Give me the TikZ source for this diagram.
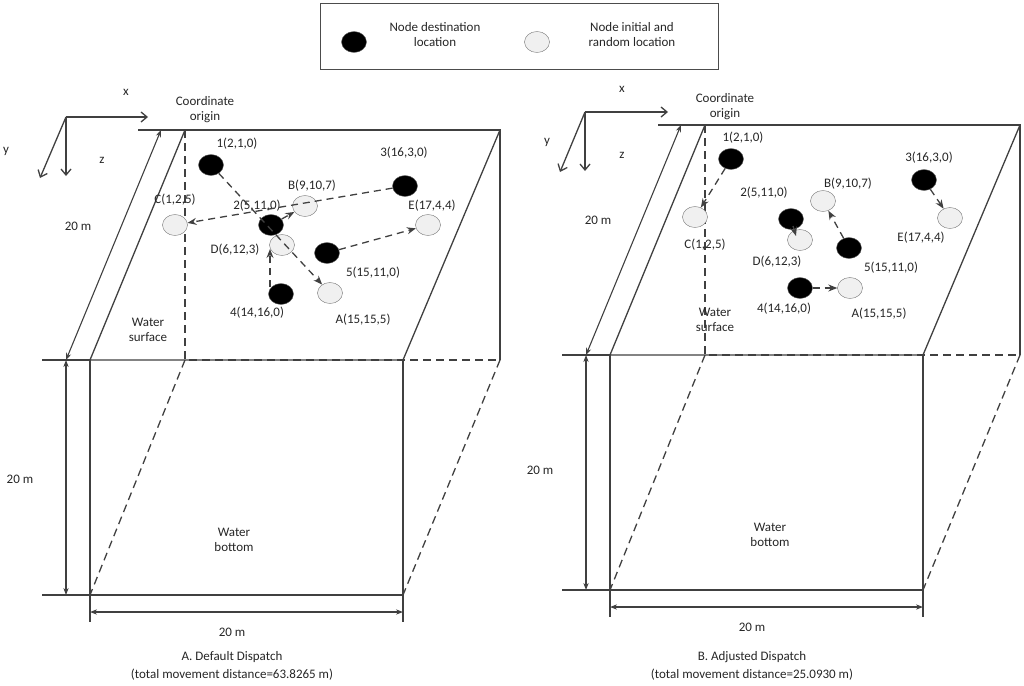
\documentclass[tikz,border=0pt]{standalone}
\usepackage{fontspec}
\setmainfont{Carlito}
\usetikzlibrary{shapes.geometric,arrows.meta}
\begin{document}
\begin{tikzpicture}[x=1pt,y=-1pt,
  ln/.style={line width=1.3pt,draw=black!75},
  dsh/.style={ln,dash pattern=on 8pt off 5pt},
  dim/.style={line width=1.1pt,draw=black!75,{Stealth[length=7pt]}-{Stealth[length=7pt]}},
  ext/.style={line width=1.1pt,draw=black!75},
  bn/.style={ellipse,minimum width=25pt,minimum height=21pt,inner sep=0,fill=black,draw=black!60},
  wn/.style={ellipse,minimum width=25pt,minimum height=21pt,inner sep=0,fill=black!6,draw=black!55},
  mv/.style={line width=1.3pt,draw=black!75,dash pattern=on 7pt off 5pt,-{Stealth[length=9pt,width=7pt]}},
  ax/.style={line width=1.3pt,draw=black!75,-{Straight Barb[length=6pt,width=10pt]}},
  lb/.style={font=\fontsize{13}{15}\selectfont,inner sep=0,align=center},
  every node/.append style={text=black!85}]
\useasboundingbox (0,0) rectangle (1024,685);
% legend
\node[draw=black!70,line width=0.8pt,minimum width=398pt,minimum height=66pt,anchor=north west] (leg) at (320,3) {};
\node[bn] (lb1) at (354,42) {};
\node[lb] (lt1) at (435,35) {Node destination\\location};
\node[wn] (lw1) at (537,42) {};
\node[lb] (lt2) at (632,35) {Node initial and\\random location};
% boxes
\foreach \dx/\dy in {0/0,520/-5}{
\begin{scope}[xshift=\dx pt,yshift=-\dy pt]
\draw[ln] (185,130) -- (500,130) -- (500,360);
\draw[ln] (185,130) -- (90,360) -- (403,360) -- (500,130);
\draw[ln] (90,360) -- (90,595) -- (403,595) -- (403,360);
\draw[dsh] (185,130) -- (185,360) -- (500,360);
\draw[dsh] (185,360) -- (90,595);
\draw[dsh] (500,360) -- (403,595);
\draw[ext] (138,130) -- (185,130);
\draw[ext] (42,360) -- (90,360);
\draw[ext] (42,595) -- (90,595);
\draw[ext] (90,595) -- (90,622);
\draw[ext] (403,595) -- (403,622);
\draw[dim] (161,130) -- (66,360);
\draw[dim] (66,360) -- (66,595);
\draw[dim] (90,612) -- (403,612);
\end{scope}}
% left panel
\draw[ax] (66,117) -- (148,117);
\draw[ax] (66,117) -- (66,176);
\draw[ax] (66,117) -- (40,178);
\node[lb] (lx) at (126,92) {x};
\node[lb] (ly) at (6,151) {y};
\node[lb] (lz) at (102,160) {z};
\node[lb] (lo) at (205,110) {Coordinate\\origin};
\node[lb] (ld1) at (78,226) {20 m};
\node[lb] (ld2) at (20,479) {20 m};
\node[lb] (ld3) at (232,632) {20 m};
\node[lb] (lws) at (148,330) {Water\\surface};
\node[lb] (lwb) at (234,540) {Water\\bottom};
\node[lb] (lc1) at (232,657) {A. Default Dispatch};
\node[lb] (lc2) at (232,675) {(total movement distance=63.8265 m)};
\node[bn] (L1) at (211,165) {};
\node[bn] (L3) at (405,186) {};
\node[wn] (LC) at (175,225) {};
\node[wn] (LB) at (305,206) {};
\node[wn] (LD) at (282,245) {};
\node[bn] (L2) at (271,225) {};
\node[bn] (L5) at (327,253) {};
\node[wn] (LE) at (428,225) {};
\node[bn] (L4) at (281,294) {};
\node[wn] (LA) at (330,293) {};
\node[lb] at (237,144) {1(2,1,0)};
\node[lb] at (404,153) {3(16,3,0)};
\node[lb] at (312,186) {B(9,10,7)};
\node[lb] at (175,200) {C(1,2,5)};
\node[lb] at (257,206) {2(5,11,0)};
\node[lb] at (432,206) {E(17,4,4)};
\node[lb] at (235,250) {D(6,12,3)};
\node[lb] at (373,273) {5(15,11,0)};
\node[lb] at (257,313) {4(14,16,0)};
\node[lb] at (363,320) {A(15,15,5)};
\draw[mv] (L1) -- (LA);
\draw[mv] (L3) -- (LC);
\draw[mv] (L2) -- (LB);
\draw[mv] (L5) -- (LE);
\coordinate (p4) at (270,287);
\coordinate (pD) at (270,249);
\draw[mv] (p4) -- (pD);
% right panel
\draw[ax] (585,112) -- (668,112);
\draw[ax] (585,112) -- (585,171);
\draw[ax] (585,112) -- (560,172);
\node[lb] (rx) at (622,89) {x};
\node[lb] (ry) at (547,142) {y};
\node[lb] (rz) at (622,155) {z};
\node[lb] (ro) at (725,107) {Coordinate\\origin};
\node[lb] (rd1) at (598,220) {20 m};
\node[lb] (rd2) at (540,470) {20 m};
\node[lb] (rd3) at (752,627) {20 m};
\node[lb] (rws) at (715,320) {Water\\surface};
\node[lb] (rwb) at (770,535) {Water\\bottom};
\node[lb] (rc1) at (752,657) {B. Adjusted Dispatch};
\node[lb] (rc2) at (752,675) {(total movement distance=25.0930 m)};
\node[bn] (R1) at (731,159) {};
\node[wn] (RC) at (695,217) {};
\node[wn] (RD) at (800,240) {};
\node[bn] (R2) at (791,219) {};
\node[wn] (RB) at (823,201) {};
\node[bn] (R5) at (849,248) {};
\node[bn] (R3) at (924,180) {};
\node[wn] (RE) at (950,218) {};
\node[bn] (R4) at (800,288) {};
\node[wn] (RA) at (850,288) {};
\node[lb] at (743,138) {1(2,1,0)};
\node[lb] at (705,245) {C(1,2,5)};
\node[lb] at (764,193) {2(5,11,0)};
\node[lb] at (777,262) {D(6,12,3)};
\node[lb] at (848,184) {B(9,10,7)};
\node[lb] at (891,268) {5(15,11,0)};
\node[lb] at (929,158) {3(16,3,0)};
\node[lb] at (921,238) {E(17,4,4)};
\node[lb] at (784,309) {4(14,16,0)};
\node[lb] at (879,314) {A(15,15,5)};
\draw[mv] (R1) -- (RC);
\coordinate (q2) at (793,226);
\coordinate (qD) at (796,236);
\draw[mv] (q2) -- (qD);
\draw[mv] (R5) -- (RB);
\draw[mv] (R3) -- (RE);
\draw[mv] (R4) -- (RA);
\end{tikzpicture}
\end{document}
